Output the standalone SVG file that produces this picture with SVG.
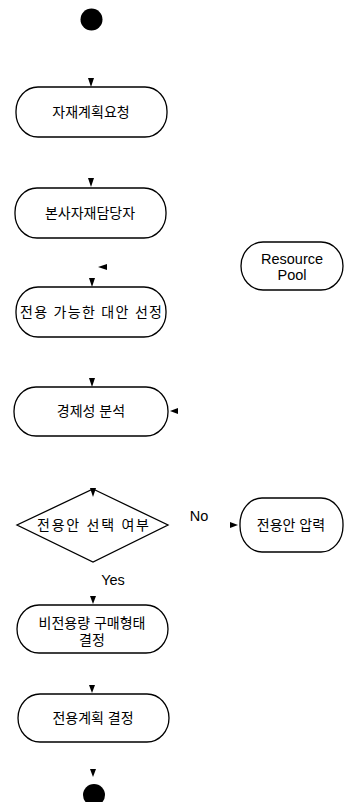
<svg xmlns="http://www.w3.org/2000/svg" width="345" height="802" viewBox="0 0 345 802">
<style>
.n{fill:#fff;stroke:#000;stroke-width:1.3}
.t{font-family:"Liberation Sans","Noto Sans CJK KR",sans-serif;font-size:14px;fill:#000;text-anchor:middle}
.e{font-family:"Liberation Sans","Noto Sans CJK KR",sans-serif;font-size:14.5px;fill:#000;text-anchor:middle}
.a{fill:#000}
.d{fill:#000}
</style>
<rect width="345" height="802" fill="#fff"/>
<g id="start"><circle class="d" cx="91.5" cy="19.5" r="11"/></g>
<g id="n1"><rect class="n" x="16" y="87" width="151" height="50" rx="22" ry="24"/><text class="t" x="91" y="117">자재계획요청</text></g>
<g id="n2"><rect class="n" x="15" y="188" width="151" height="50" rx="22" ry="24"/><text class="t" x="90" y="218">본사자재담당자</text></g>
<g id="pool"><rect class="n" x="241" y="242" width="102" height="48" rx="22" ry="24"/><text class="e" x="292" y="264">Resource</text><text class="e" x="292" y="280">Pool</text></g>
<g id="n3"><rect class="n" x="16" y="287" width="150" height="50" rx="22" ry="24"/><text class="t" x="91" y="317" textLength="142">전용 가능한 대안 선정</text></g>
<g id="n4"><rect class="n" x="14" y="387" width="154" height="49" rx="22" ry="24"/><text class="t" x="91" y="416">경제성 분석</text></g>
<g id="dec"><polygon class="n" points="93,489 168,525 93,562 17,525"/><text class="t" x="93" y="530" textLength="112">전용안 선택 여부</text></g>
<g id="n5"><rect class="n" x="240" y="498" width="103" height="54" rx="22" ry="26"/><text class="t" x="291" y="530">전용안 압력</text></g>
<g id="n6"><rect class="n" x="17" y="605" width="151" height="48" rx="22" ry="24"/><text class="t" x="92" y="628">비전용량 구매형태</text><text class="t" x="92" y="645">결정</text></g>
<g id="n7"><rect class="n" x="18" y="694" width="151" height="48" rx="22" ry="24"/><text class="t" x="93" y="723">전용계획 결정</text></g>
<g id="end"><circle class="d" cx="94" cy="795" r="11"/></g>
<g id="connectors">
<polygon class="a" points="88,78 94,78 91,87"/>
<polygon class="a" points="88,178 94,178 91,187"/>
<polygon class="a" points="107,264 107,270 98,267"/>
<polygon class="a" points="89,278 95,278 92,287"/>
<polygon class="a" points="89,378 95,378 92,387"/>
<polygon class="a" points="178,408 178,414 170,411"/>
<polygon class="a" points="90,488 96,488 93,497"/>
<polygon class="a" points="230,522 230,528 238,525"/>
<polygon class="a" points="90,596 96,596 93,604"/>
<polygon class="a" points="89,685 95,685 92,693"/>
<polygon class="a" points="90,769 96,769 93,777"/>
</g>
<g id="labels"><text class="e" x="199" y="521">No</text><text class="e" x="113" y="585">Yes</text></g>
</svg>
